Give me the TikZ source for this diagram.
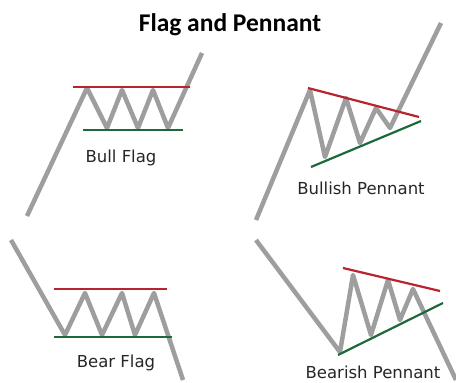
\documentclass[tikz,border=0pt]{standalone}
\usepackage{fontspec}
\setmainfont{DejaVu Sans}
\newfontfamily\titlefont{Carlito}
\usepackage{tikz}
\usetikzlibrary{calc}
\definecolor{pricegray}{RGB}{158, 158, 158}
\definecolor{resistred}{RGB}{185, 35, 45}
\definecolor{supportgreen}{RGB}{30, 105, 60}
\tikzset{
  priceline/.style={pricegray, line width=4.5pt, line join=round},
  resline/.style={resistred, line width=2.2pt},
  supline/.style={supportgreen, line width=2.2pt},
  patlabel/.style={font=\fontsize{16.5}{19}\selectfont, text=black!85}
}

\begin{document}
\begin{tikzpicture}[x=1pt, y=-1pt]
    \useasboundingbox (0,0) rectangle (456,383);
    % Title
    \node[font=\titlefont\bfseries\fontsize{25.5}{29}\selectfont] (title) at (230,25) {Flag and Pennant};
    % Bull flag
    \draw[priceline] (27,216) -- (87,88) -- (107,128) -- (122,90) -- (138,128)
      -- (153,90) -- (168,128) -- (202,53);
    \draw[resline] (73,87) -- (190,87);
    \draw[supline] (83,130) -- (183,130);
    \node[patlabel] (bullflag) at (121,158) {Bull Flag};
    % Bullish pennant
    \draw[priceline] (256,220) -- (310,90) -- (325,157) -- (346,98) -- (360,143)
      -- (376,108) -- (390,128) -- (441,23);
    \draw[resline] (308,88) -- (419,117);
    \draw[supline] (311,167) -- (421,121);
    \node[patlabel] (bullpennant) at (361,188) {Bullish Pennant};
    % Bear flag
    \draw[priceline] (11,240) -- (65,335) -- (85,293) -- (102,335) -- (122,293)
      -- (135,335) -- (154,293) -- (183,380);
    \draw[resline] (54,289) -- (167,289);
    \draw[supline] (54,337) -- (172,337);
    \node[patlabel] (bearflag) at (116,363) {Bear Flag};
    % Bearish pennant
    \draw[priceline] (256,240) -- (340,352) -- (353,275) -- (371,335) -- (388,280)
      -- (400,320) -- (413,289) -- (456,380);
    \draw[resline] (343,268) -- (440,291);
    \draw[supline] (338,355) -- (443,303);
    \node[patlabel] (bearpennant) at (373,372) {Bearish Pennant};
\end{tikzpicture}
\end{document}
